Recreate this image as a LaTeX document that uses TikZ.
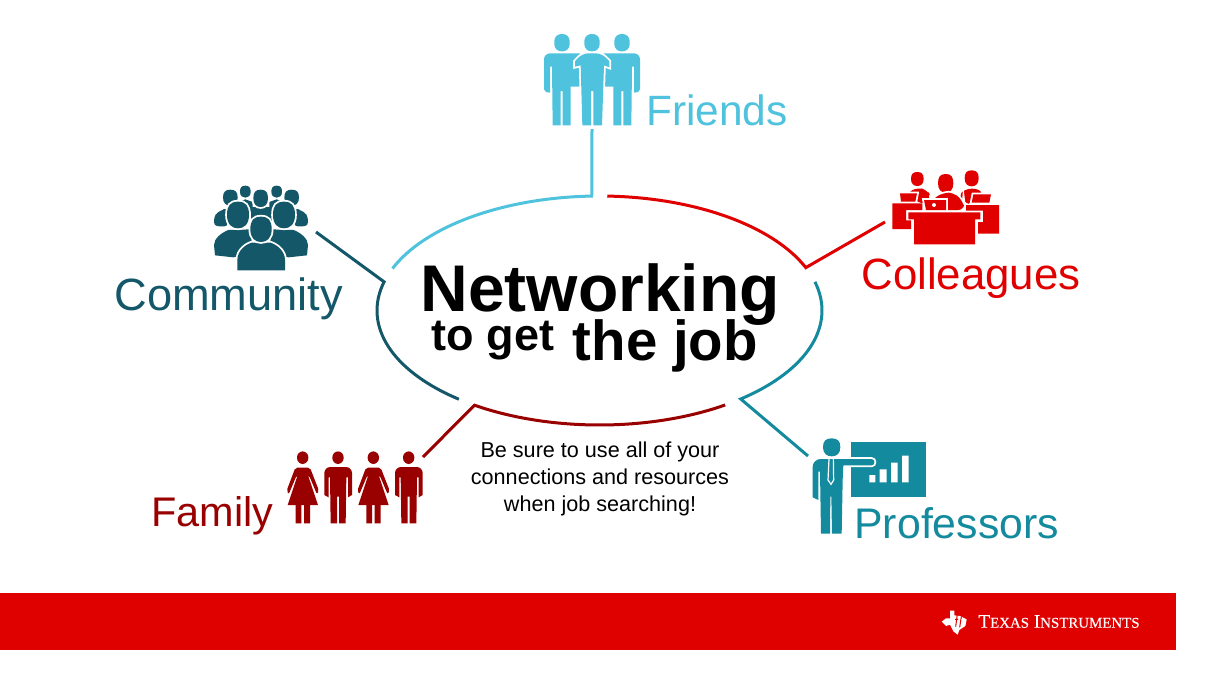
\documentclass[tikz,border=0pt]{standalone}
\usepackage{fontspec}
\newfontfamily\helv{Liberation Sans}
\newfontfamily\brandfont{Liberation Serif}[FakeBold=0.3]
\definecolor{friendsc}{HTML}{4FC3DD}
\definecolor{colleaguec}{HTML}{E00000}
\definecolor{communityc}{HTML}{135768}
\definecolor{familyc}{HTML}{990000}
\definecolor{professorc}{HTML}{138A9E}
\definecolor{barc}{HTML}{DF0000}
\newcommand{\smc}[1]{{\fontsize{7.45}{9}\selectfont #1}}
\newcommand{\headshape}[5][]{\fill[#1] ({#2-#4},#3) .. controls ({#2-#4},{#3-.7*#5}) and ({#2-.7*#4},{#3-#5}) .. (#2,{#3-#5}) .. controls ({#2+.7*#4},{#3-#5}) and ({#2+#4},{#3-.7*#5}) .. ({#2+#4},#3) .. controls ({#2+#4},{#3+.7*#5}) and ({#2+.55*#4},{#3+#5}) .. (#2,{#3+#5}) .. controls ({#2-.55*#4},{#3+#5}) and ({#2-#4},{#3+.7*#5}) .. ({#2-#4},#3) -- cycle;}
\tikzset{
  declare function={ringx(\t)=599.5+222.5*cos(\t); ringy(\t)=310.5+114.5*sin(\t);},
  lbl/.style={inner sep=0pt,anchor=base west},
  link/.style={line width=1.5pt,line join=miter,samples=40},
  cut/.style={preaction={draw=white,line width=1.8pt}},
}
\begin{document}
\begin{tikzpicture}[x=0.5pt,y=-0.5pt]
\useasboundingbox (0,0) rectangle (1230,691);
\fill[barc] (0,593) rectangle (1176,650);

\coordinate (friendsend) at (592,129);
\coordinate (colleagueend) at (885,222);
\coordinate (professorend) at (808,456);
\coordinate (familyend) at (423,457);
\coordinate (communityend) at (316,232);

\draw[link,friendsc] (friendsend) -- plot[domain=268:201.5] ({ringx(\x)},{ringy(\x)});
\draw[link,colleaguec] (colleagueend) -- plot[domain=338:272] ({ringx(\x)},{ringy(\x)});
\draw[link,professorc] (professorend) -- plot[domain=50.6:-14.5] ({ringx(\x)},{ringy(\x)});
\draw[link,familyc] (familyend) -- plot[domain=124.2:55.6] ({ringx(\x)},{ringy(\x)});
\draw[link,communityc] (communityend) -- plot[domain=194.5:129.2] ({ringx(\x)},{ringy(\x)});

\node[lbl,font=\helv\bfseries\fontsize{33}{36}\selectfont] (title) at (420,311.7) {Networking};
\node[lbl,font=\helv\bfseries\fontsize{22.5}{24}\selectfont] (titleb) at (431.5,350) {to get};
\node[lbl,font=\helv\bfseries\fontsize{28.2}{30}\selectfont] (titlec) at (572.5,360) {the job};
\node[inner sep=0pt,align=center,font=\helv\fontsize{10.8}{13.3}\selectfont] (advice) at (600,479) {Be sure to use all of your\\connections and resources\\when job searching!};

\node[lbl,friendsc,font=\helv\fontsize{21.2}{24}\selectfont] (friends) at (646,125.3) {Friends};
\node[lbl,communityc,font=\helv\fontsize{22.6}{24}\selectfont] (community) at (114,310.7) {Community};
\node[lbl,colleaguec,font=\helv\fontsize{21.9}{24}\selectfont] (colleagues) at (861,289) {Colleagues};
\node[lbl,familyc,font=\helv\fontsize{20.7}{24}\selectfont] (family) at (151,526) {Family};
\node[lbl,professorc,font=\helv\fontsize{21.4}{24}\selectfont] (professors) at (854,538) {Professors};
\node[lbl,white,font=\brandfont\fontsize{9.6}{11}\selectfont] (brand) at (978,627.7) {T\smc{EXAS} I\smc{NSTRUMENTS}};

% friends icon
\begin{scope}[shift={(530,20)},scale=1/3]
\foreach \sx/\flip in {0/1,372/-1}{
\begin{scope}[shift={(\sx,0)},xscale=\flip]
\fill[friendsc,rounded corners=3.5pt] (73,42) rectangle (119,94);
\fill[friendsc] (42,160) [rounded corners=3pt] -- (42,100) -- (90,100) [sharp corners] -- (150,100) -- (150,200) -- (122,200) -- (122,316) -- (98,316) -- (98,213) -- (92,213) -- (92,316) -- (68,316) -- (66,140) -- (60,140) -- (60,218) -- (48,216) -- (42,208) -- cycle;
\end{scope}}
\fill[friendsc,rounded corners=3.5pt] (163,42) rectangle (209,94);
\fill[friendsc,cut] (135,140) -- (135,124) [rounded corners=3pt] -- (157,100) -- (215,100) [sharp corners] -- (238,124) -- (238,142) -- (222,136) -- (216,316) -- (190,316) -- (190,213) -- (183,213) -- (183,316) -- (157,316) -- (152,136) -- cycle;
\end{scope}

% community icon
\begin{scope}[shift={(100,170)},scale=1/3]
\foreach \sx/\flip in {0/1,966/-1}{
\begin{scope}[shift={(\sx,0)},xscale=\flip]
\headshape[communityc]{436}{65}{16}{18}
\fill[communityc] (418,96) -- (436,88) -- (458,96) -- (458,125) -- (418,125) -- cycle;
\fill[communityc,cut,rounded corners=2pt] (341,168) -- (344,132) -- (382,112) -- (384,170) -- cycle;
\headshape[communityc,cut]{391}{83}{22}{24}
\end{scope}}
\fill[communityc] (452,112) rectangle (515,155);
\headshape[communityc,cut]{482}{85}{22}{26}
\foreach \sx/\flip in {0/1,966/-1}{
\begin{scope}[shift={(\sx,0)},xscale=\flip]
\fill[communityc,cut] (345,256) -- (342,225) .. controls (342,205) and (365,188) .. (385,180) -- (455,178) -- (455,250) -- (400,262) -- cycle;
\headshape[communityc,cut]{414}{135}{33}{40}
\end{scope}}
\fill[communityc,cut] (412,301) -- (412,270) .. controls (412,240) and (440,222) .. (455,218) -- (511,218) .. controls (526,222) and (555,240) .. (555,270) -- (555,301) -- cycle;
\headshape[communityc,cut]{483}{178}{32}{38}
\end{scope}

% colleagues icon
\begin{scope}[shift={(800,160)},scale=1/3]
\headshape[colleaguec]{352}{57}{19}{21}
\headshape[colleaguec]{515}{55}{21}{24}
\fill[colleaguec,rounded corners=3pt] (320,100) -- (352,82) -- (382,90) -- (394,112) -- (370,135) -- (330,110) -- cycle;
\fill[colleaguec,rounded corners=3pt] (475,100) -- (515,82) -- (552,96) -- (515,135) -- (490,125) -- cycle;
\fill[colleaguec,cut] (300,100) -- (351,100) -- (346,125) -- (303,125) -- cycle;
\fill[colleaguec,cut] (520,103) -- (573,103) -- (568,128) -- (515,128) -- cycle;
\headshape[colleaguec]{437}{70}{23}{28}
\fill[colleaguec,cut,rounded corners=3pt] (396,118) -- (430,98) -- (462,98) -- (490,125) -- (493,150) -- (396,150) -- cycle;
\fill[colleaguec,cut] (372,120) -- (438,120) -- (438,150) -- (378,150) -- cycle;
\fill[white] (402,135) circle [radius=6];
\fill[colleaguec] (277,130) -- (367,130) -- (367,150) -- (318,150) -- (318,181) -- (333,181) -- (333,207) -- (277,207) -- cycle;
\fill[colleaguec] (498,135) -- (597,135) -- (597,221) -- (534,221) -- (534,186) -- (549,186) -- (549,152) -- (498,152) -- cycle;
\fill[colleaguec] (325,157) -- (541,157) -- (541,178) -- (525,178) -- (525,253) -- (342,253) -- (342,178) -- (325,178) -- cycle;
\end{scope}

% family icon
\begin{scope}[shift={(140,400)},scale=1/3]
\foreach \off in {0,212}{
\begin{scope}[shift={(\off,0)}]
\fill[familyc,rounded corners=3pt] (471,154) rectangle (505,192);
\fill[familyc,rounded corners=1pt] (466,203) -- (510,203) -- (537,272) -- (531,283) -- (507,226) -- (470,226) -- (446,283) -- (440,272) -- cycle;
\fill[familyc] (474,222) -- (503,222) -- (534,315) -- (443,315) -- cycle;
\fill[familyc] (467,315) rectangle (484,370) (492,315) rectangle (510,370);
\fill[familyc,rounded corners=3pt] (577,154) rectangle (611,192);
\fill[familyc] (553,240) [rounded corners=3pt] -- (553,201) -- (636,201) [sharp corners] -- (636,285) -- (624,292) -- (624,232) -- (619,232) -- (617,370) -- (597,370) -- (597,290) -- (591,290) -- (591,370) -- (572,370) -- (570,232) -- (566,232) -- (566,292) -- (553,285) -- cycle;
\end{scope}}
\end{scope}

% professors icon
\begin{scope}[shift={(730,390)},scale=1/3]
\fill[professorc] (363,156) rectangle (588,320);
\fill[white] (418,255) rectangle (436,277) (449,238) rectangle (470,277) (483,218) rectangle (503,277) (516,197) rectangle (536,277);
\headshape[professorc]{305}{172}{26}{27}
\fill[professorc,cut] (248,250) [rounded corners=4pt] -- (248,207) -- (300,207) [sharp corners] -- (425,207) .. controls (436,207) and (436,226) .. (425,226) -- (340,226) -- (338,270) -- (335,431) -- (306,431) -- (304,320) -- (301,320) -- (300,431) -- (273,431) -- (270,245) -- (265,245) -- (265,330) -- (248,322) -- cycle;
\draw[white,line width=.6pt] (297,207) -- (294,270) -- (303,283) -- (311,270) -- (310,207);
\end{scope}

% ti logo
\begin{scope}[shift={(920,590)},scale=1/3]
\fill[white] (65,95) -- (78,85) -- (90,85) -- (90,62) -- (103,62) -- (103,76) -- (120,78) -- (140,88) -- (136,108) -- (118,120) -- (113,134) -- (100,124) -- (90,104) -- (78,108) -- cycle;
\draw[barc,line width=.5pt] (112,72) -- (107,110) (124,80) -- (119,112) (105,88) -- (114,88) (126,72) -- (125,75);
\end{scope}
\end{tikzpicture}
\end{document}
